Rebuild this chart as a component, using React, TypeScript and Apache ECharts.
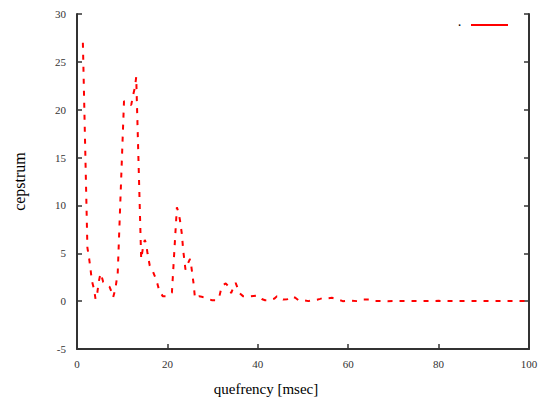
import React, { useEffect, useRef } from "react";
import * as echarts from "echarts";

const quefrency = [
  1.3, 2.3, 2.7, 3.0, 3.3, 3.8, 4.1, 4.5, 4.8, 5.2, 5.5, 5.8, 6.6, 7.2, 7.7, 8.0, 8.5, 8.8, 9.0,
  10.4, 11.3, 12.0, 12.4, 12.8, 13.1, 14.2, 14.6, 15.0, 15.3, 15.6, 16.1, 16.8, 17.3, 17.8, 18.2,
  19.0, 19.7, 20.4, 21.0, 22.1, 22.5, 22.8, 23.2, 23.5, 24.0, 24.3, 24.5, 25.0, 25.3, 25.8, 26.1,
  27.0, 27.6, 28.7, 29.8, 30.9, 31.5, 31.8, 32.4, 32.9, 33.5, 34.1, 34.5, 34.8, 35.1, 35.5, 35.9,
  36.8, 38.3, 40.0, 40.5, 41.0, 41.6, 42.5, 43.7, 44.2, 45.0, 45.6, 46.5, 47.5, 48.3, 49.0, 50.1,
  51.2, 52.2, 53.1, 53.8, 54.6, 55.5, 56.4, 57.4, 58.8, 60.5, 62.0, 63.1, 64.9, 65.9, 68.6, 72.0,
  76.0, 80.0, 84.0, 88.0, 92.0, 96.0, 100.0,
];
const cepstrum = [
  27.0, 5.6, 4.4, 3.3, 2.1, 1.2, 0.2, 0.9, 2.0, 2.9, 2.5, 2.0, 1.7, 1.5, 0.9, 0.4, 1.3, 2.3, 2.8,
  20.9, 20.6, 20.5, 21.5, 22.3, 23.4, 4.4, 5.6, 6.4, 6.0, 5.0, 3.7, 3.1, 2.5, 1.8, 1.1,
  0.5, 0.5, 0.7, 0.9, 9.8, 9.2, 8.4, 7.0, 5.3, 3.3, 3.6, 3.9, 4.4, 3.6, 1.8, 0.3,
  0.5, 0.45, 0.3, 0.1, 0.1, 0.5, 1.1, 1.7, 1.85, 1.55, 0.85, 1.3, 1.7, 1.9, 1.4, 0.85,
  0.5, 0.5, 0.6, 0.4, 0.2, 0.1, 0.1, 0.27, 0.5, 0.45, 0.17, 0.2, 0.5, 0.35, 0.1, 0.1,
  0.0, 0.1, 0.15, 0.24, 0.35, 0.3, 0.35, 0.24, 0.0, 0.05, 0.0, 0.17, 0.17, 0.02, 0.0, 0.02,
  0.0, 0.03, 0.0, 0.02, 0.0, 0.02, 0.0,
];
const xTicks = [0, 20, 40, 60, 80, 100];
const yTicks = [-5, 0, 5, 10, 15, 20, 25, 30];

const FONT = "'Liberation Serif', 'DejaVu Serif', serif";

export default function App() {
  const ref = useRef<HTMLDivElement>(null);
  useEffect(() => {
    if (!ref.current) return;
    const chart = echarts.init(ref.current, null, { renderer: "svg" });
    const data = quefrency.map((q, i) => [q, cepstrum[i]]);
    const axisLine = { show: true, onZero: false, lineStyle: { color: "#333", width: 2 } };
    const axisTick = { show: true, inside: true, length: 5, lineStyle: { color: "#333", width: 1.5 } };
    chart.setOption({
      animation: false,
      backgroundColor: "#fff",
      grid: { left: 77, right: 20, top: 14, bottom: 50, containLabel: false },
      legend: {
        show: true,
        right: 36,
        top: 13,
        align: "right",
        icon: "rect",
        itemWidth: 37,
        itemHeight: 2,
        textStyle: { fontFamily: FONT, fontSize: 14, color: "#000", padding: [0, 4, 0, 0] },
        data: [{ name: "·", itemStyle: { color: "#ff0000" } }],
      },
      xAxis: {
        type: "value",
        min: xTicks[0],
        max: xTicks[xTicks.length - 1],
        interval: 20,
        axisLine,
        axisTick,
        splitLine: { show: false },
        axisLabel: { fontFamily: FONT, fontSize: 11, color: "#333", margin: 9 },
        name: "quefrency [msec]",
        nameLocation: "middle",
        nameGap: 32,
        nameTextStyle: { fontFamily: FONT, fontSize: 15, color: "#000", padding: [0, 74, 0, 0] },
      },
      yAxis: [
        {
          type: "value",
          min: yTicks[0],
          max: yTicks[yTicks.length - 1],
          interval: 5,
          axisLine,
          axisTick,
          splitLine: { show: false },
          axisLabel: { fontFamily: FONT, fontSize: 11, color: "#333", margin: 11 },
          name: "cepstrum",
          nameLocation: "middle",
          nameGap: 50,
          nameRotate: 90,
          nameTextStyle: { fontFamily: FONT, fontSize: 16, color: "#000" },
        },
        {
          type: "value",
          position: "right",
          min: yTicks[0],
          max: yTicks[yTicks.length - 1],
          interval: 5,
          axisLine,
          axisTick,
          splitLine: { show: false },
          axisLabel: { show: false },
        },
      ],
      series: [
        {
          name: "·",
          type: "line",
          data,
          showSymbol: false,
          yAxisIndex: 0,
          lineStyle: { color: "#ff0000", width: 2, type: [5, 7] },
          itemStyle: { color: "#ff0000" },
        },
      ],
    });
    return () => chart.dispose();
  }, []);
  return <div ref={ref} style={{ width: 549, height: 401, position: "absolute", left: 0, top: 0 }} />;
}
